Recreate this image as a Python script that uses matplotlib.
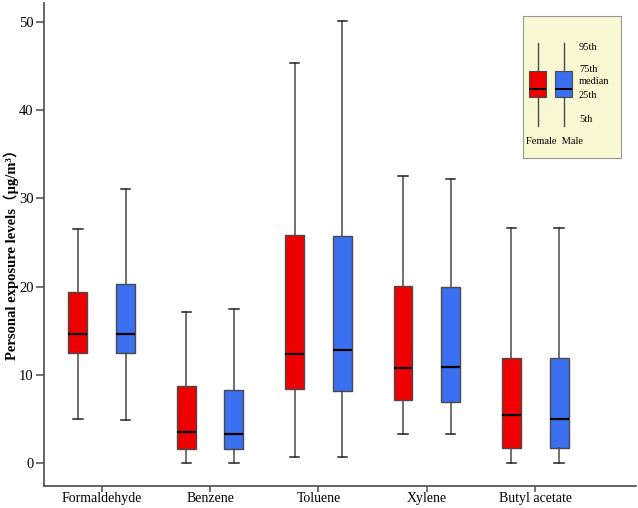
import matplotlib
matplotlib.use("Agg")
import matplotlib.pyplot as plt

categories = ["Formaldehyde", "Benzene", "Toluene", "Xylene", "Butyl acetate"]

# Female (red) five-number summaries: 5th, 25th, median, 75th, 95th
female_p5 = [5.0, 0.0, 0.65, 3.3, 0.0]
female_q1 = [12.5, 1.5, 8.4, 7.1, 1.7]
female_med = [14.6, 3.5, 12.3, 10.8, 5.4]
female_q3 = [19.4, 8.75, 25.9, 20.1, 11.85]
female_p95 = [26.5, 17.1, 45.4, 32.5, 26.7]

# Male (blue)
male_p5 = [4.9, 0.0, 0.65, 3.3, 0.0]
male_q1 = [12.5, 1.6, 8.1, 6.9, 1.7]
male_med = [14.6, 3.25, 12.8, 10.85, 5.0]
male_q3 = [20.3, 8.3, 25.7, 20.0, 11.85]
male_p95 = [31.1, 17.5, 50.2, 32.2, 26.7]

yticks = [0, 10, 20, 30, 40, 50]

# legend sketch labels
legend_labels = ["95th", "75th", "median", "25th", "5th"]
legend_series = ["Female", "Male"]

RED = "#ee0000"
BLUE = "#3a6ff0"
EDGE = "#4a4a4a"

plt.rcParams["font.family"] = ["Liberation Serif", "DejaVu Serif"]

fig = plt.figure(figsize=(6.38, 5.08), dpi=100)
ax = fig.add_axes([44/638, 22/508, (636-44)/638, (486-3)/508])

def stats(lo, q1, med, q3, hi):
    return [dict(whislo=a, q1=b, med=c, q3=d, whishi=e, fliers=[])
            for a, b, c, d, e in zip(lo, q1, med, q3, hi)]

pos = list(range(1, len(categories) + 1))
off = 0.22
w = 0.175
common = dict(widths=w, showfliers=False, patch_artist=True,
              capwidths=0.088,
              whiskerprops=dict(color=EDGE, lw=1.1),
              capprops=dict(color="#222222", lw=1.1),
              medianprops=dict(color="black", lw=1.6),
              manage_ticks=False)
ax.bxp(stats(female_p5, female_q1, female_med, female_q3, female_p95),
       positions=[p - off for p in pos],
       boxprops=dict(facecolor=RED, edgecolor=EDGE, lw=1.0), **common)
ax.bxp(stats(male_p5, male_q1, male_med, male_q3, male_p95),
       positions=[p + off for p in pos],
       boxprops=dict(facecolor=BLUE, edgecolor=EDGE, lw=1.0), **common)

ax.set_xlim(0.467, 5.93)
ax.set_ylim(-2.65, 52.19)
ax.set_xticks(pos)
ax.set_xticklabels(categories, fontsize=10)
ax.set_yticks(yticks)
ax.set_yticklabels([str(t) for t in yticks], fontsize=10.5)
for s in ["top", "right"]:
    ax.spines[s].set_visible(False)
for s in ["left", "bottom"]:
    ax.spines[s].set_color(EDGE)
    ax.spines[s].set_linewidth(1.2)
ax.tick_params(axis="y", direction="out", length=6, width=1.1, color=EDGE,
               pad=1.5, labelcolor="black")
ax.tick_params(axis="x", direction="out", length=4, width=1.1, color=EDGE,
               pad=0.5, labelcolor="black")

fig.text(11/638, 1 - 251/508, "Personal exposure levels（μg/m³）",
         rotation=90, ha="center", va="center", fontsize=10.5,
         fontweight="bold",
         family=["Liberation Serif", "Noto Sans CJK SC", "DejaVu Serif"])

# legend box as inset axes
lax = fig.add_axes([523/638, (508-158)/508, 98/638, 142/508])
lax.set_facecolor("#f8f8d2")
for s in lax.spines.values():
    s.set_color("#999999")
    s.set_linewidth(0.8)
lax.set_xlim(0, 98)
lax.set_ylim(142, 0)
lax.set_xticks([])
lax.set_yticks([])
leg_stats = [dict(whislo=110, q1=81, med=73, q3=55, whishi=27, fliers=[])]
lcommon = dict(widths=17, showfliers=False, patch_artist=True, showcaps=False,
               whiskerprops=dict(color=EDGE, lw=1.0),
               medianprops=dict(color="black", lw=1.4), manage_ticks=False)
lax.bxp(leg_stats, positions=[14.5],
        boxprops=dict(facecolor=RED, edgecolor=EDGE, lw=0.8), **lcommon)
lax.bxp(leg_stats, positions=[40.5],
        boxprops=dict(facecolor=BLUE, edgecolor=EDGE, lw=0.8), **lcommon)
for lab, yy in zip(legend_labels, [31, 53, 66, 79, 103]):
    lax.text(56, yy, lab, fontsize=7.5, va="center", ha="left")
lax.text(3, 126, "  ".join(legend_series), fontsize=7.5, va="center", ha="left")

fig.savefig("out.png", dpi=100)
